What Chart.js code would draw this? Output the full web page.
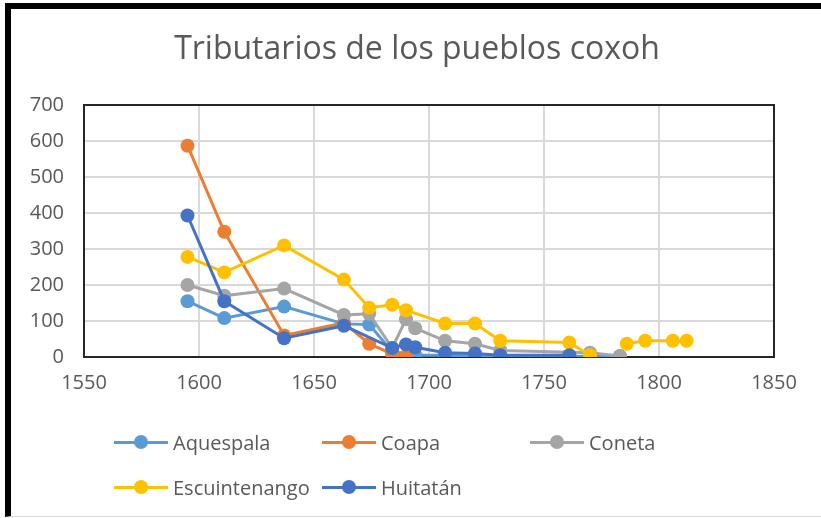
<!DOCTYPE html>
<html>
<head>
<meta charset="utf-8">
<script src="https://cdn.jsdelivr.net/npm/chart.js@4"></script>
<style>
  html, body { margin: 0; padding: 0; background: #fff; }
  body { width: 821px; height: 518px; position: relative; overflow: hidden; font-family: "Open Sans", sans-serif; }
  #myChart { position: absolute; left: 0; top: 0; }
  #frame { position: absolute; left: 5px; top: 3px; width: 816px; height: 507px;
           border-left: 6px solid #000; border-top: 6px solid #000; border-bottom: 1px solid #d9d9d9;
           pointer-events: none; }
  #title { position: absolute; top: 25px; left: 0; width: 834px; text-align: center;
           font-size: 32px; color: #595959; white-space: nowrap; }
  #legend { position: absolute; left: 114px; top: 428px; display: grid;
            grid-template-columns: 208px 208px 208px; row-gap: 17px; }
  .item { display: flex; align-items: center; height: 28px; font-size: 20px; color: #595959; }
  .mark { position: relative; width: 54px; height: 14px; margin-right: 5px; }
  .mark .ln { position: absolute; left: 0; top: 5.5px; width: 54px; height: 3px; }
  .mark .dot { position: absolute; left: 20px; top: 0; width: 14px; height: 14px; border-radius: 50%; }
</style>
</head>
<body>
<canvas id="myChart" width="821" height="518"></canvas>
<div id="frame"></div>
<div id="title">Tributarios de los pueblos coxoh</div>
<div id="legend"></div>
<script>
// datos (anio, tributarios)
const seriesNames = ["Aquespala", "Coapa", "Coneta", "Escuintenango", "Huitatán"]
const seriesColors = ["#5B9BD5", "#ED7D31", "#A5A5A5", "#FFC000", "#4472C4"]

const aquespalaYears = [1595, 1611, 1637, 1663, 1674, 1684, 1694, 1707, 1720, 1731, 1761, 1783]
const aquespalaVals  = [155, 108, 140, 92, 90, 15, 5, 5, 3, 2, 2, 2]

const coapaYears = [1595, 1611, 1637, 1663, 1674, 1684, 1690]
const coapaVals  = [587, 348, 60, 95, 37, 8, 2]

const conetaYears = [1595, 1611, 1637, 1663, 1674, 1684, 1690, 1694, 1707, 1720, 1731, 1770, 1783]
const conetaVals  = [200, 170, 190, 117, 120, 25, 105, 80, 45, 37, 18, 12, 3]

// null = hueco en la serie (no hay linea entre 1770 y 1786)
const escuintenangoYears = [1595, 1611, 1637, 1663, 1674, 1684, 1690, 1707, 1720, 1731, 1761, 1770, 1778, 1786, 1794, 1806, 1812]
const escuintenangoVals  = [278, 235, 310, 215, 137, 145, 130, 93, 93, 45, 40, 5, null, 37, 45, 45, 45]

const huitatanYears = [1595, 1611, 1637, 1663, 1684, 1690, 1694, 1707, 1720, 1731, 1761]
const huitatanVals  = [393, 155, 52, 87, 25, 35, 27, 12, 10, 5, 5]

const xTicksMin = 1550, xTicksMax = 1850, xStep = 50
const yTicksMin = 0, yTicksMax = 700, yStep = 100

const allYears = [aquespalaYears, coapaYears, conetaYears, escuintenangoYears, huitatanYears]
const allVals = [aquespalaVals, coapaVals, conetaVals, escuintenangoVals, huitatanVals]

function toPoints(xs, ys) {
  return xs.map((x, i) => ({ x: x, y: ys[i] }))
}

const datasets = seriesNames.map((name, i) => ({
  label: name,
  data: toPoints(allYears[i], allVals[i]),
  borderColor: seriesColors[i],
  backgroundColor: seriesColors[i],
  borderWidth: 3,
  pointRadius: 7,
  pointHoverRadius: 7,
  pointBorderWidth: 0,
  tension: 0,
  spanGaps: false,
  order: seriesNames.length - 1 - i // la ultima serie queda encima, como en Excel
}))

// marco del area de trazado
const plotBorder = {
  id: 'plotBorder',
  beforeDatasetsDraw: chart => {
    const a = chart.chartArea
    const ctx = chart.ctx
    ctx.save()
    ctx.strokeStyle = '#262626'
    ctx.lineWidth = 2
    ctx.strokeRect(a.left, a.top, a.right - a.left, a.bottom - a.top)
    ctx.restore()
  }
}

const tickFont = { family: "'Open Sans', sans-serif", size: 20 }

const myChart = new Chart(document.getElementById('myChart'), {
  type: 'line',
  data: { datasets },
  options: {
    responsive: false,
    animation: false,
    layout: { padding: { left: 0, right: 47, top: 105, bottom: 121 } },
    plugins: {
      legend: { display: false },
      title: { display: false },
      tooltip: { enabled: false }
    },
    scales: {
      x: {
        type: 'linear',
        min: xTicksMin,
        max: xTicksMax,
        afterFit: scale => { scale.height = 40 },
        grid: { color: '#d9d9d9', lineWidth: 2, drawTicks: false },
        border: { display: false },
        ticks: {
          stepSize: xStep,
          color: '#595959',
          font: tickFont,
          padding: 14,
          callback: v => String(v)
        }
      },
      y: {
        min: yTicksMin,
        max: yTicksMax,
        afterFit: scale => { scale.width = 84 },
        grid: { color: '#d9d9d9', lineWidth: 2, drawTicks: false },
        border: { display: false },
        ticks: {
          stepSize: yStep,
          color: '#595959',
          font: tickFont,
          padding: 20,
          callback: v => String(v)
        }
      }
    }
  },
  plugins: [plotBorder]
})

// leyenda en columnas, como la de Excel
const legendBox = document.getElementById('legend')
myChart.data.datasets.forEach(ds => {
  const item = document.createElement('div')
  item.className = 'item'
  item.innerHTML = '<span class="mark"><span class="ln" style="background:' + ds.borderColor + '"></span>' +
    '<span class="dot" style="background:' + ds.borderColor + '"></span></span>' + ds.label
  legendBox.appendChild(item)
})
</script>
</body>
</html>
